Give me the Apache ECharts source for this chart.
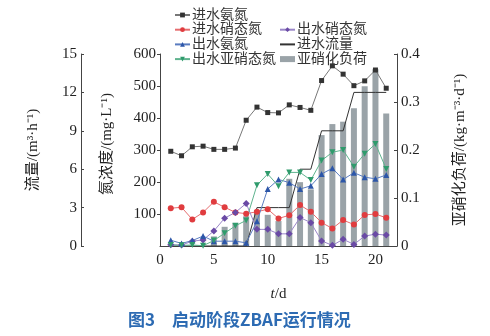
<!DOCTYPE html>
<html><head><meta charset="utf-8">
<script src="https://cdn.jsdelivr.net/npm/echarts@6/dist/echarts.min.js"></script>
<style>html,body{margin:0;padding:0;background:#fff}#c{width:490px;height:336px}</style>
</head><body><div id="c"></div>
<script>
const days = [1,2,3,4,5,6,7,8,9,10,11,12,13,14,15,16,17,18,19,20,21];
const inNH4 = [296,282,310,312,302,302,306,393,434,417,416,441,433,424,517,563,537,501,516,550,493];
const inNO3 = [118,121,83,105,138,121,105,101,107,115,86,96,128,107,73,55,81,67,97,100,88];
const outNO3 = [4,3,15,19,47,87,105,133,52,52,38,38,89,73,16,2,21,5,31,37,34];
const outNH4 = [18,8,17,31,15,15,15,10,77,178,208,198,178,188,225,243,208,229,215,210,222];
const outNO2 = [3,2,3,1,17,40,63,80,190,225,187,230,230,206,267,293,300,248,288,319,241];
const flow = [0,0,0,0,0,0,0,0,3,3,3,3,6,6,9,9,9,12,12,12,12];
const loadDays = [5,6,7,8,9,10,11,12,13,14,15,16,17,18,19,20,21];
const load = [0.02,0.04,0.048,0.062,0.075,0.065,0.052,0.14,0.133,0.118,0.231,0.254,0.259,0.287,0.333,0.368,0.276];
const xTicks = [0,5,10,15,20];
const names = ['进水氨氮','进水硝态氮','出水硝态氮','出水氨氮','进水流量','出水亚硝态氮','亚硝化负荷'];

const pair = (xs, ys) => xs.map((x,i)=>[x, ys[i]]);
const FONT = '"Liberation Serif","Noto Sans CJK SC",serif';
const AX = '#444';
const BAR = '#9aa3a8';

const chart = echarts.init(document.getElementById('c'), null, {renderer:'canvas'});
function lineSeries(name, data, sym, size, mcol, lcol, extra) {
  return Object.assign({
    name, type:'line', data, xAxisIndex:0, yAxisIndex:0,
    symbol: sym, symbolSize: size, showSymbol:true,
    itemStyle:{color:mcol}, lineStyle:{color:lcol, width:1},
    z: 5, animation:false
  }, extra||{});
}
const legendText = {fontFamily: FONT, fontSize: 14, color:'#333', lineHeight:14, padding:[0,0,0,-3]};
chart.setOption({
  animation:false,
  grid:{left:160, right:93, top:54, bottom:90, containLabel:false},
  legend:[
    {orient:'vertical', left:169, top:3, itemGap:0.7, itemWidth:15, itemHeight:6,
     textStyle:legendText, data:[names[0],names[1],names[3],names[5]], symbolRotate:'inherit'},
    {orient:'vertical', left:274, top:17.7, itemGap:0.7, itemWidth:15, itemHeight:6,
     textStyle:legendText, data:[names[2],
       {name:names[4], itemStyle:{color:'rgba(0,0,0,0)', borderColor:'rgba(0,0,0,0)', borderWidth:0}},
       {name:names[6], icon:'rect', itemStyle:{color:BAR}}], symbolRotate:'inherit'}
  ],
  xAxis:{type:'value', min:0, max:22, interval:5,
    name:'{i|t}/d', nameLocation:'middle', nameGap:41,
    nameTextStyle:{fontFamily:FONT, fontSize:15, color:'#222', rich:{i:{fontStyle:'italic', fontFamily:FONT, fontSize:15, color:'#222'}}},
    axisLine:{lineStyle:{color:AX}}, axisTick:{show:false}, splitLine:{show:false},
    axisLabel:{fontFamily:FONT, fontSize:15, color:'#222', margin:7, showMaxLabel:false,
      formatter: v => xTicks.indexOf(v) >= 0 ? String(v) : ''}
  },
  yAxis:[
    {type:'value', position:'left', min:0, max:600, interval:100,
     name:'氮浓度/(mg·L⁻¹)', nameLocation:'middle', nameGap:45, nameRotate:90,
     nameTextStyle:{fontFamily:FONT, fontSize:15, color:'#222', padding:[0,0,0,12]},
     axisLine:{show:true, lineStyle:{color:AX}}, axisTick:{show:true, inside:false, length:3, lineStyle:{color:AX}},
     splitLine:{show:false},
     axisLabel:{fontFamily:FONT, fontSize:15, color:'#222', margin:4, showMinLabel:false}},
    {type:'value', position:'left', offset:79, min:0, max:15, interval:3,
     name:'流量/(m³·h⁻¹)', nameLocation:'middle', nameGap:40, nameRotate:90,
     nameTextStyle:{fontFamily:FONT, fontSize:15, color:'#222'},
     axisLine:{show:true, lineStyle:{color:AX}}, axisTick:{show:true, inside:true, length:3, lineStyle:{color:AX}},
     splitLine:{show:false},
     axisLabel:{fontFamily:FONT, fontSize:15, color:'#222', margin:4}},
    {type:'value', position:'right', min:0, max:0.4, interval:0.1,
     name:'亚硝化负荷/(kg·m⁻³·d⁻¹)', nameLocation:'middle', nameGap:56, nameRotate:90,
     nameTextStyle:{fontFamily:FONT, fontSize:15, color:'#222'},
     axisLine:{show:true, lineStyle:{color:AX}}, axisTick:{show:true, inside:true, length:3, lineStyle:{color:AX}},
     splitLine:{show:false},
     axisLabel:{fontFamily:FONT, fontSize:15, color:'#222', margin:4}}
  ],
  series:[
    {name:names[6], type:'bar', yAxisIndex:2, data:pair(loadDays, load), barWidth:6,
     itemStyle:{color:BAR}, z:1, animation:false},
    lineSeries(names[4], pair(days, flow), 'none', 0, '#222', '#333', {yAxisIndex:1, z:4}),
    lineSeries(names[0], pair(days, inNH4), 'rect', 5, '#333', '#777'),
    lineSeries(names[1], pair(days, inNO3), 'circle', 6, '#e03c3f', '#e66d6f'),
    lineSeries(names[2], pair(days, outNO3), 'diamond', 7, '#6a4aa5', '#9a86c8'),
    lineSeries(names[3], pair(days, outNH4), 'triangle', 6, '#2c56a8', '#5a7cc0'),
    lineSeries(names[5], pair(days, outNO2), 'triangle', 6, '#2f9b6c', '#5fb38e', {symbolRotate:180})
  ],
  graphic:[
    {type:'text', left:128, top:311, style:{text:'图3　启动阶段ZBAF运行情况', fontFamily:'"Noto Sans CJK SC",sans-serif', fontSize:17, fontWeight:'bold', fill:'#2d6bb3'}}
  ]
});
</script></body></html>
